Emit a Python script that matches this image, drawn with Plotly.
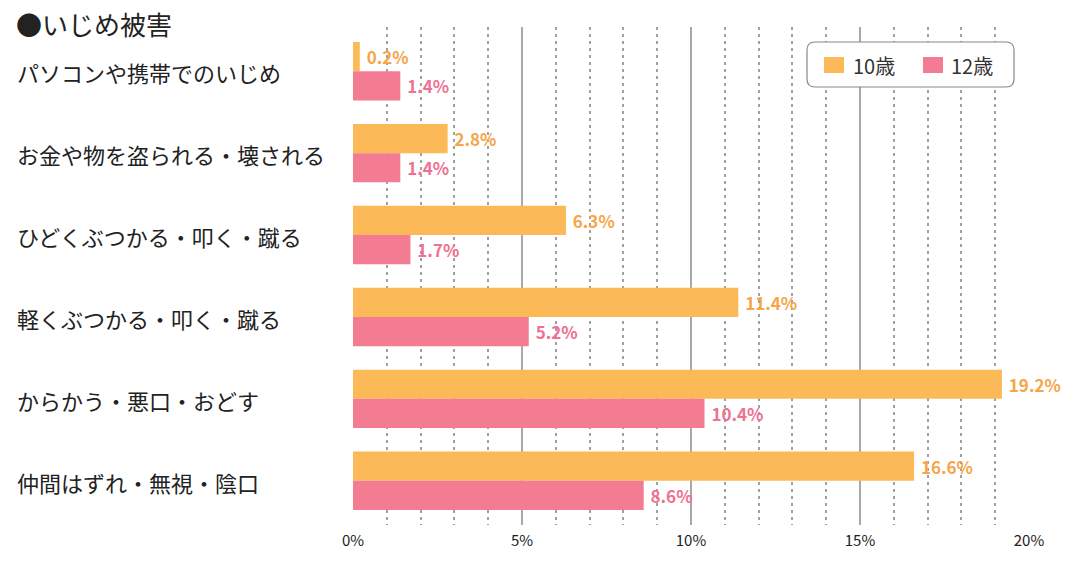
import plotly.graph_objects as go

categories = ["パソコンや携帯でのいじめ", "お金や物を盗られる・壊される", "ひどくぶつかる・叩く・蹴る",
              "軽くぶつかる・叩く・蹴る", "からかう・悪口・おどす", "仲間はずれ・無視・陰口"]
age10 = [0.2, 2.8, 6.3, 11.4, 19.2, 16.6]
age12 = [1.4, 1.4, 1.7, 5.2, 10.4, 8.6]
series_names = ["10歳", "12歳"]
tick_vals = [0, 5, 10, 15, 20]
tick_text = ["0%", "5%", "10%", "15%", "20%"]

FONT = "Noto Sans CJK JP"
ORANGE = "#FBB957"
PINK = "#F37C92"
ORANGE_T = "#F7A548"
PINK_T = "#EF7090"

W, H = 1081, 570
ML, MR, MT, MB = 353, 52, 27, 45
PW = W - ML - MR
PH = H - MT - MB

def px(x): return (x - ML) / PW
def py(y): return 1 - (y - MT) / PH

fig = go.Figure()
for name, vals, col, tcol in [(series_names[0], age10, ORANGE, ORANGE_T),
                               (series_names[1], age12, PINK, PINK_T)]:
    fig.add_trace(go.Bar(
        y=categories, x=vals, name=name, orientation="h", showlegend=False,
        marker=dict(color=col, line=dict(width=0)),
        text=[f" {v}%" for v in vals], textposition="outside",
        textfont=dict(family=FONT, size=17, color=tcol, weight="bold"),
        cliponaxis=False, constraintext="none",
    ))

annotations = [dict(text="●いじめ被害", xref="paper", yref="paper",
                    x=px(14), y=py(24), xanchor="left", yanchor="middle",
                    showarrow=False, font=dict(family=FONT, size=26, color="#222222"))]
for c in categories:
    annotations.append(dict(text=c, xref="paper", yref="y", x=px(15), y=c,
                            xanchor="left", yanchor="middle", showarrow=False, yshift=-1,
                            font=dict(family=FONT, size=22, color="#222222")))

# legend (manual, rounded box)
x0, x1, y0, y1, r = 807, 1014, 42, 87, 8
rx = r / PW
ry = r / PH
path = (f"M {px(x0)+rx},{py(y0)} L {px(x1)-rx},{py(y0)} Q {px(x1)},{py(y0)} {px(x1)},{py(y0)-ry} "
        f"L {px(x1)},{py(y1)+ry} Q {px(x1)},{py(y1)} {px(x1)-rx},{py(y1)} "
        f"L {px(x0)+rx},{py(y1)} Q {px(x0)},{py(y1)} {px(x0)},{py(y1)+ry} "
        f"L {px(x0)},{py(y0)-ry} Q {px(x0)},{py(y0)} {px(x0)+rx},{py(y0)} Z")
shapes = [dict(type="path", path=path, xref="paper", yref="paper",
               line=dict(color="#888888", width=1.2), fillcolor="white", layer="above")]
for (sx, tx), name, col in zip([(824, 851), (923, 949)], series_names, [ORANGE, PINK]):
    shapes.append(dict(type="rect", xref="paper", yref="paper", x0=px(sx), x1=px(sx + 20),
                       y0=py(57), y1=py(73), fillcolor=col, line=dict(width=0), layer="above"))
    annotations.append(dict(text=name, xref="paper", yref="paper", x=px(tx), y=py(65),
                            xanchor="left", yanchor="middle", showarrow=False,
                            font=dict(family=FONT, size=20, color="#333333")))

fig.update_layout(
    width=W, height=H,
    margin=dict(l=ML, r=MR, t=MT, b=MB, autoexpand=False),
    paper_bgcolor="white", plot_bgcolor="white",
    barmode="group", bargap=0.287, bargroupgap=0,
    font=dict(family=FONT, color="#222222"),
    showlegend=False,
    xaxis=dict(range=[0, 20], tickvals=tick_vals, ticktext=tick_text, showgrid=True,
               gridcolor="#A8A8A8", gridwidth=2, zeroline=False, showline=False,
               tickfont=dict(family=FONT, size=15, color="#222222"), ticks="", ticklen=0,
               ticklabelstandoff=5,
               minor=dict(dtick=1, showgrid=True, gridcolor="#A0A0A0", griddash="3px,4px", gridwidth=1.5)),
    yaxis=dict(range=[5.54, -0.54], showticklabels=False, showgrid=False, zeroline=False,
               ticks="", showline=False),
    annotations=annotations,
    shapes=shapes,
)
fig.write_html("out.html")
